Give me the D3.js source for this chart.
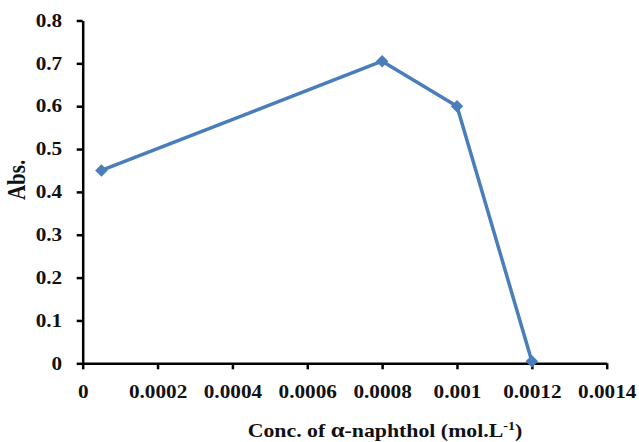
<!DOCTYPE html>
<html>
<head>
<meta charset="utf-8">
<script src="https://cdn.jsdelivr.net/npm/d3@7"></script>
<style>
  body { margin: 0; background: #fff; }
  svg { display: block; }
  .axis path, .axis line { stroke: #000; stroke-width: 2.5; }
  .axis text { font-family: "Liberation Serif", "Times New Roman", serif; font-weight: bold; font-size: 18px; fill: #111; }
  .title { font-family: "Liberation Serif", "Times New Roman", serif; font-weight: bold; fill: #111; }
</style>
</head>
<body>
<svg width="639" height="442"></svg>
<script>
// values
const conc = [0.00005, 0.0008, 0.001, 0.0012];
const absVals = [0.45, 0.705, 0.6, 0.005];
const xTicks = [0, 0.0002, 0.0004, 0.0006, 0.0008, 0.001, 0.0012, 0.0014];
const xTickLabels = ["0", "0.0002", "0.0004", "0.0006", "0.0008", "0.001", "0.0012", "0.0014"];
const yTicks = [0, 0.1, 0.2, 0.3, 0.4, 0.5, 0.6, 0.7, 0.8];
const yTickLabels = ["0", "0.1", "0.2", "0.3", "0.4", "0.5", "0.6", "0.7", "0.8"];

const stretch = 1.18;   // text in the original looks widened
const lineColor = "#4a7ebb";

var svg = d3.select("svg");

var x = d3.scaleLinear()
    .domain([0, 0.0014])
    .range([82.7, 606.7]);

var y = d3.scaleLinear()
    .domain([0, 0.8])
    .range([363.3, 20.5]);

var xAxis = d3.axisBottom(x)
    .tickValues(xTicks)
    .tickFormat((d, i) => xTickLabels[i])
    .tickSize(6)
    .tickSizeOuter(0);

var yAxis = d3.axisLeft(y)
    .tickValues(yTicks)
    .tickFormat((d, i) => yTickLabels[i])
    .tickSize(6)
    .tickSizeOuter(0);

var gX = svg.append("g")
    .attr("class", "axis")
    .attr("transform", `translate(0,${y(0)})`)
    .call(xAxis);
gX.selectAll("text")
    .attr("y", 22)
    .attr("dy", "0.71em")
    .attr("transform", `scale(${stretch},1)`);

var gY = svg.append("g")
    .attr("class", "axis")
    .attr("transform", `translate(${x(0)},0)`)
    .call(yAxis);
gY.selectAll("text")
    .attr("x", -20.5 / stretch)
    .attr("transform", `scale(${stretch},1)`);

let line = d3.line()
    .x((d, i) => x(conc[i]))
    .y((d) => y(d));

svg.append("path")
    .datum(absVals)
    .attr("d", line)
    .attr("fill", "none")
    .attr("stroke", lineColor)
    .attr("stroke-width", 3.5)
    .attr("stroke-linejoin", "round");

svg.selectAll(".pt")
    .data(absVals)
    .enter()
    .append("path")
    .attr("class", "pt")
    .attr("d", d3.symbol().type(d3.symbolDiamond2).size(100))
    .attr("transform", (d, i) => `translate(${x(conc[i])},${y(d)})`)
    .attr("fill", lineColor);

// axis titles
var xt = svg.append("text")
    .attr("class", "title")
    .attr("text-anchor", "middle")
    .attr("transform", `translate(385,437) scale(${stretch},1)`)
    .attr("font-size", 18.5);
xt.append("tspan").text("Conc. of ");
xt.append("tspan").text("α").attr("font-size", 21);
xt.append("tspan").text("-naphthol (mol.L");
xt.append("tspan").text("-1").attr("font-size", 12).attr("dy", -7);
xt.append("tspan").text(")").attr("dy", 7);

svg.append("text")
    .attr("class", "title")
    .attr("text-anchor", "middle")
    .attr("transform", `translate(25,180) rotate(-90) scale(1,${stretch})`)
    .attr("font-size", 21)
    .text("Abs.");
</script>
</body>
</html>
